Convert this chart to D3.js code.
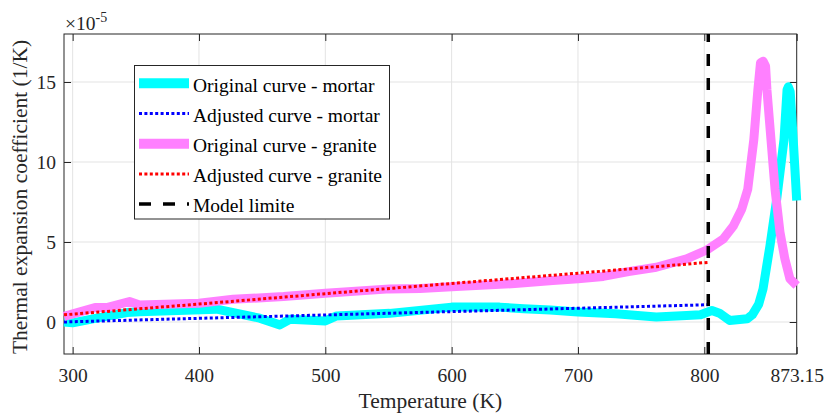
<!DOCTYPE html>
<html>
<head>
<meta charset="utf-8">
<script src="https://cdn.jsdelivr.net/npm/d3@7"></script>
<style>
  html, body { margin: 0; padding: 0; background: #fff; }
  svg, svg text { font-family: "Liberation Serif", "Times New Roman", serif; }
</style>
</head>
<body>
<div id="chart"></div>
<script>
// --- data (values in 1e-5 1/K) ---
const mortarTemp = [293.15, 300, 319, 343, 353, 414, 448, 464, 472, 500, 509, 551, 600, 638, 657, 678, 700, 730, 762, 786, 797, 806, 812, 820, 834, 838, 843, 846.5, 849.4, 852, 857.3, 863.1, 865.5, 866.5, 868, 870.4, 873.15];
const mortarOriginal = [0.0, -0.05, 0.24, 0.59, 0.64, 0.80, 0.24, -0.18, 0.17, 0.07, 0.38, 0.54, 0.93, 0.93, 0.83, 0.75, 0.62, 0.52, 0.31, 0.41, 0.45, 0.72, 0.55, 0.1, 0.2, 0.45, 1.1, 2.07, 3.5, 4.77, 7.67, 11.4, 14.5, 14.7, 14.4, 11.4, 7.6];

const graniteTemp = [293.15, 317.7, 327, 345, 353, 400, 427, 467, 500, 551, 575, 600, 650, 680, 700, 720, 740, 762, 786, 802, 815, 823, 829.6, 834.4, 839.2, 842.4, 844.5, 846.5, 848.5, 849.6, 852.8, 856, 859.9, 863.8, 867.8, 873.15];
const graniteOriginal = [0.35, 0.9, 0.9, 1.28, 1.06, 1.17, 1.42, 1.59, 1.79, 2.07, 2.1, 2.2, 2.4, 2.6, 2.7, 2.85, 3.15, 3.42, 3.94, 4.5, 5.18, 6.0, 7.05, 8.3, 11.4, 14.5, 16.2, 16.3, 16.0, 14.5, 11.4, 8.3, 5.62, 3.94, 2.7, 2.28];

const adjustedTemp = [293.15, 400, 500, 600, 700, 803.15];
const mortarAdjusted = [0.0, 0.23, 0.44, 0.65, 0.86, 1.08];
const graniteAdjusted = [0.45, 1.12, 1.77, 2.41, 3.05, 3.73];

const modelLimit = 803.15;

const xTickValues = [300, 400, 500, 600, 700, 800, 873.15];
const xTickLabels = ["300", "400", "500", "600", "700", "800", "873.15"];
const yTickValues = [0, 5, 10, 15];
const yTickLabels = ["0", "5", "10", "15"];

const legendLabels = [
  "Original curve - mortar",
  "Adjusted curve - mortar",
  "Original curve - granite",
  "Adjusted curve - granite",
  "Model limite",
];

// --- layout ---
const W = 826, H = 414;
const plotLeft = 64, plotRight = 796.7, plotTop = 34, plotBottom = 354;
const axisColor = "#262626";
const gridColor = "#e3e3e3";
const fontSize = 19.5;
const serif = "'Liberation Serif', 'Times New Roman', serif";

const svg = d3.select("#chart").append("svg")
  .attr("width", W)
  .attr("height", H)
  .style("font-family", serif);

const x = d3.scaleLinear().domain([293.15, 873.15]).range([plotLeft, plotRight]);
const y = d3.scaleLinear().domain([-2, 18]).range([plotBottom, plotTop]);

// grid
const grid = svg.append("g");
grid.selectAll(".gx").data(xTickValues.slice(0, -1)).join("line")
  .attr("x1", d => x(d)).attr("x2", d => x(d))
  .attr("y1", plotTop).attr("y2", plotBottom)
  .attr("stroke", gridColor).attr("stroke-width", 1);
grid.selectAll(".gy").data(yTickValues).join("line")
  .attr("x1", plotLeft).attr("x2", plotRight)
  .attr("y1", d => y(d)).attr("y2", d => y(d))
  .attr("stroke", gridColor).attr("stroke-width", 1);

// axes (ticks pointing inward)
const fmtX = d => xTickLabels[xTickValues.indexOf(d)];
const fmtY = d => yTickLabels[yTickValues.indexOf(d)];

const xAxis = svg.append("g")
  .attr("transform", `translate(0,${plotBottom})`)
  .call(d3.axisBottom(x).tickValues(xTickValues).tickFormat(fmtX).tickSize(-7).tickPadding(14));
const xAxisTop = svg.append("g")
  .attr("transform", `translate(0,${plotTop})`)
  .call(d3.axisTop(x).tickValues(xTickValues).tickFormat("").tickSize(-7));
const yAxis = svg.append("g")
  .attr("transform", `translate(${plotLeft},0)`)
  .call(d3.axisLeft(y).tickValues(yTickValues).tickFormat(fmtY).tickSize(-7).tickPadding(8));
const yAxisRight = svg.append("g")
  .attr("transform", `translate(${plotRight},0)`)
  .call(d3.axisRight(y).tickValues(yTickValues).tickFormat("").tickSize(-7));

[xAxis, xAxisTop, yAxis, yAxisRight].forEach(a => {
  a.attr("font-family", null).attr("font-size", null);
  a.select(".domain").remove();
  a.selectAll(".tick line").attr("stroke", axisColor);
  a.selectAll("text")
    .style("font-family", serif)
    .style("font-size", fontSize + "px")
    .attr("fill", axisColor);
});

// box
svg.append("rect")
  .attr("x", plotLeft).attr("y", plotTop)
  .attr("width", plotRight - plotLeft).attr("height", plotBottom - plotTop)
  .attr("fill", "none").attr("stroke", axisColor).attr("stroke-width", 1);

// --- curves ---
const line = d3.line().x(d => x(d[0])).y(d => y(d[1]));
const zip = (a, b) => a.map((t, i) => [t, b[i]]);

const series = [
  { data: zip(mortarTemp, mortarOriginal), color: "#00ffff", width: 9, dash: null },
  { data: zip(adjustedTemp, mortarAdjusted), color: "#0000ff", width: 3, dash: "3,2.4" },
  { data: zip(graniteTemp, graniteOriginal), color: "#ff80ff", width: 9, dash: null },
  { data: zip(adjustedTemp, graniteAdjusted), color: "#ff0000", width: 3, dash: "3,2.4" },
];

series.forEach(s => {
  svg.append("path")
    .attr("d", line(s.data))
    .attr("fill", "none")
    .attr("stroke", s.color)
    .attr("stroke-width", s.width)
    .attr("stroke-linejoin", "round")
    .attr("stroke-dasharray", s.dash);
});

// model limit (drawn bottom to top)
svg.append("line")
  .attr("x1", x(modelLimit)).attr("x2", x(modelLimit))
  .attr("y1", plotBottom).attr("y2", plotTop)
  .attr("stroke", "#000").attr("stroke-width", 3.5)
  .attr("stroke-dasharray", "12,12");

// --- axis labels ---
svg.append("text")
  .attr("x", (plotLeft + plotRight) / 2).attr("y", 407.5)
  .attr("text-anchor", "middle")
  .style("font-size", "21.5px")
  .attr("fill", axisColor)
  .text("Temperature (K)");

svg.append("text")
  .attr("transform", `translate(27,${(plotTop + plotBottom) / 2 + 3}) rotate(-90)`)
  .attr("text-anchor", "middle")
  .style("font-size", "21.5px")
  .attr("fill", axisColor)
  .text("Thermal expansion coefficient (1/K)");

const expo = svg.append("text")
  .attr("x", 65).attr("y", 29.5)
  .style("font-size", fontSize + "px")
  .attr("fill", axisColor);
expo.append("tspan").text("\u00d710");
expo.append("tspan").attr("dy", -8).style("font-size", "14px").text("-5");

// --- legend ---
const lg = svg.append("g");
lg.append("rect")
  .attr("x", 134.5).attr("y", 65.5)
  .attr("width", 255).attr("height", 153.5)
  .attr("fill", "#fff").attr("stroke", axisColor).attr("stroke-width", 1);

const legendStyles = [
  { color: "#00ffff", width: 10, dash: null },
  { color: "#0000ff", width: 3, dash: "3,2.4" },
  { color: "#ff80ff", width: 10, dash: null },
  { color: "#ff0000", width: 3, dash: "3,2.4" },
  { color: "#000000", width: 3.5, dash: "12,12" },
];

legendLabels.forEach((label, i) => {
  const cy = 83.3 + i * 30.2;
  lg.append("line")
    .attr("x1", 139).attr("x2", 189)
    .attr("y1", cy).attr("y2", cy)
    .attr("stroke", legendStyles[i].color)
    .attr("stroke-width", legendStyles[i].width)
    .attr("stroke-dasharray", legendStyles[i].dash);
  lg.append("text")
    .attr("x", 193).attr("y", cy + 8.3)
    .style("font-size", fontSize + "px")
    .attr("fill", "#000")
    .text(label);
});
</script>
</body>
</html>
